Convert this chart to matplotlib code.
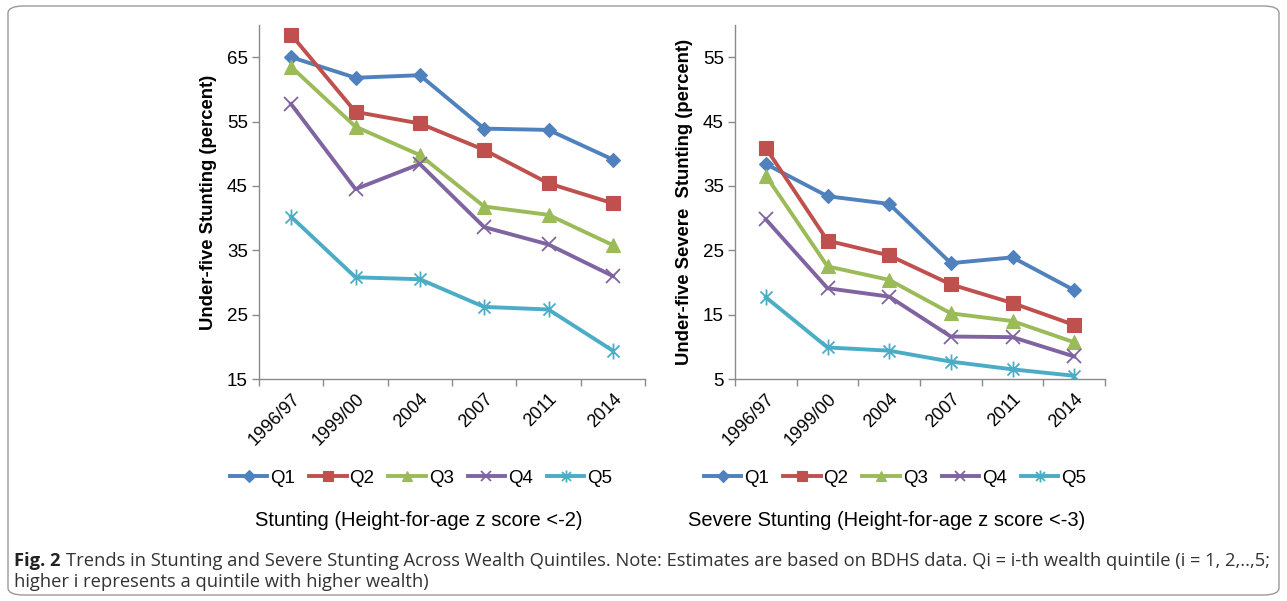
import matplotlib
matplotlib.use("Agg")
import matplotlib.pyplot as plt
from matplotlib.path import Path
from matplotlib.patches import FancyBboxPatch
from matplotlib.ticker import FixedLocator, NullFormatter

plt.rcParams['font.family'] = ['Liberation Sans', 'DejaVu Sans']

years = ["1996/97", "1999/00", "2004", "2007", "2011", "2014"]
series_names = ["Q1", "Q2", "Q3", "Q4", "Q5"]

stunting_q1 = [65.0, 61.8, 62.2, 53.9, 53.7, 49.1]
stunting_q2 = [68.5, 56.5, 54.7, 50.6, 45.4, 42.3]
stunting_q3 = [63.5, 54.2, 49.8, 41.8, 40.5, 35.8]
stunting_q4 = [57.7, 44.5, 48.4, 38.6, 35.9, 31.0]
stunting_q5 = [40.2, 30.8, 30.5, 26.2, 25.8, 19.4]

severe_q1 = [38.4, 33.4, 32.2, 23.0, 23.9, 18.8]
severe_q2 = [40.9, 26.5, 24.2, 19.7, 16.8, 13.4]
severe_q3 = [36.6, 22.5, 20.4, 15.2, 14.0, 10.7]
severe_q4 = [29.8, 19.1, 17.8, 11.6, 11.5, 8.5]
severe_q5 = [17.7, 9.9, 9.4, 7.7, 6.5, 5.5]

left_yticks = [15, 25, 35, 45, 55, 65]
right_yticks = [5, 15, 25, 35, 45, 55]

colors = ["#4F81BD", "#C0504D", "#9BBB59", "#8064A2", "#4BACC6"]

# asterisk marker (vertical bar + X)
ast = Path([(0, -1), (0, 1), (-0.75, -0.75), (0.75, 0.75), (-0.75, 0.75), (0.75, -0.75)],
           [Path.MOVETO, Path.LINETO, Path.MOVETO, Path.LINETO, Path.MOVETO, Path.LINETO])
markers = ["D", "s", "^", "x", ast]
msizes = [7.5, 10, 9.5, 9.5, 11.5]

W, H = 1287, 601
fig = plt.figure(figsize=(W / 100, H / 100), dpi=100)

# rounded border
fig.patches.append(FancyBboxPatch((8 / W, 6 / H), (W - 16) / W, (H - 12) / H,
                                  boxstyle="round,pad=0,rounding_size=0.012",
                                  transform=fig.transFigure, fill=False,
                                  edgecolor="#9a9a9a", linewidth=1.0))


def make_panel(rect, data, ylim, yticks, ylabel, legend_cx, subtitle, sub_cx):
    ax = fig.add_axes(rect)
    x = list(range(len(years)))
    for i, vals in enumerate(data):
        ax.plot(x, vals, color=colors[i], lw=2.8, marker=markers[i], ms=msizes[i],
                mew=1.3 if i >= 3 else 0.8, mec=colors[i], label=series_names[i])
    ax.set_xlim(-0.5, len(years) - 0.5)
    ax.set_ylim(*ylim)
    ax.set_yticks(yticks)
    ax.set_xticks(x)
    ax.set_xticklabels(years, rotation=45, ha="right", va="top", rotation_mode="anchor")
    ax.xaxis.set_minor_locator(FixedLocator([i - 0.5 for i in range(len(years) + 1)]))
    ax.xaxis.set_minor_formatter(NullFormatter())
    ax.tick_params(axis="x", which="major", length=0, labelsize=13, pad=8)
    ax.tick_params(axis="x", which="minor", length=5, color="#8a8a8a", width=1)
    ax.tick_params(axis="y", length=5, color="#8a8a8a", width=1, labelsize=13.5, pad=3)
    for s in ["top", "right"]:
        ax.spines[s].set_visible(False)
    for s in ["left", "bottom"]:
        ax.spines[s].set_color("#8a8a8a")
        ax.spines[s].set_linewidth(1.0)
    ax.set_ylabel(ylabel, fontsize=13.3, fontweight="bold", labelpad=7)
    ax.legend(loc="center", bbox_to_anchor=(legend_cx / W, 1 - 478 / H),
              bbox_transform=fig.transFigure, ncol=5, frameon=False, fontsize=13.5,
              handlelength=2.0, handletextpad=0.15, columnspacing=0.75, markerscale=0.75)
    fig.text(sub_cx / W, 1 - 520 / H, subtitle, ha="center", va="center", fontsize=14.5)
    return ax


top, bottom = 25, 379
make_panel([259 / W, 1 - bottom / H, 386 / W, (bottom - top) / H],
           [stunting_q1, stunting_q2, stunting_q3, stunting_q4, stunting_q5],
           (15, 70), left_yticks, "Under-five Stunting (percent)", 421,
           "Stunting (Height-for-age z score <-2)", 419)
make_panel([735 / W, 1 - bottom / H, 370 / W, (bottom - top) / H],
           [severe_q1, severe_q2, severe_q3, severe_q4, severe_q5],
           (5, 60), right_yticks, "Under-five Severe  Stunting (percent)", 895,
           "Severe Stunting (Height-for-age z score <-3)", 887)

cap_font = ['Open Sans', 'DejaVu Sans']
cap_size = 13.2
t1 = fig.text(14 / W, 1 - 561 / H, "Fig. 2", fontsize=cap_size, fontweight="bold",
              family=cap_font, va="center", ha="left", color="#222222")
fig.canvas.draw()
bb = t1.get_window_extent()
fig.text((bb.x1 + 5) / W, 1 - 561 / H,
         "Trends in Stunting and Severe Stunting Across Wealth Quintiles. Note: Estimates are based on BDHS data. Qi = i-th wealth quintile (i = 1, 2,..,5;",
         fontsize=cap_size, family=cap_font, va="center", ha="left", color="#333333")
fig.text(14 / W, 1 - 582 / H, "higher i represents a quintile with higher wealth)",
         fontsize=cap_size, family=cap_font, va="center", ha="left", color="#333333")

fig.savefig("out.png", dpi=100)
